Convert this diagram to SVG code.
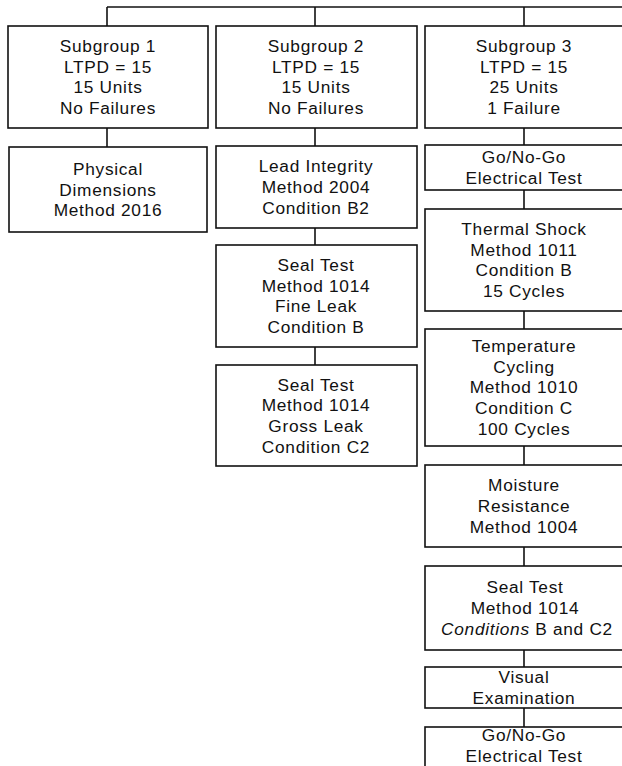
<svg xmlns="http://www.w3.org/2000/svg" width="622" height="766" viewBox="0 0 622 766">
<style>
  .box rect { fill: #ffffff; stroke: #111111; stroke-width: 1.6; }
  .box text { font-family: "Liberation Sans", Arial, Helvetica, sans-serif; font-size: 17.3px; letter-spacing: 0.7px; fill: #111111; text-anchor: middle; }
  .conn line { stroke: #111111; stroke-width: 1.6; fill: none; }
  .it { font-style: italic; }
</style>
<rect x="0" y="0" width="622" height="766" fill="#ffffff"/>
<g id="connectors" class="conn">
  <line x1="107" y1="7" x2="624" y2="7"/>
  <line x1="107" y1="7" x2="107" y2="26"/>
  <line x1="315" y1="7" x2="315" y2="26"/>
  <line x1="524" y1="7" x2="524" y2="26"/>
  <line x1="107" y1="128" x2="107" y2="147"/>
  <line x1="315" y1="128" x2="315" y2="146"/>
  <line x1="315" y1="228" x2="315" y2="245"/>
  <line x1="315" y1="347" x2="315" y2="365"/>
  <line x1="524" y1="128" x2="524" y2="145"/>
  <line x1="524" y1="190" x2="524" y2="209"/>
  <line x1="524" y1="311" x2="524" y2="329"/>
  <line x1="524" y1="446" x2="524" y2="465"/>
  <line x1="524" y1="547" x2="524" y2="566"/>
  <line x1="524" y1="650" x2="524" y2="667"/>
  <line x1="524" y1="708" x2="524" y2="727"/>
</g>
<g id="subgroup1" class="box">
  <rect x="8" y="26" width="200" height="102"/>
  <text x="108" y="52">Subgroup 1</text>
  <text x="108" y="72.7">LTPD = 15</text>
  <text x="108" y="93.4">15 Units</text>
  <text x="108" y="114">No Failures</text>
</g>
<g id="subgroup2" class="box">
  <rect x="216" y="26" width="201" height="102"/>
  <text x="316" y="52">Subgroup 2</text>
  <text x="316" y="72.7">LTPD = 15</text>
  <text x="316" y="93.4">15 Units</text>
  <text x="316" y="114">No Failures</text>
</g>
<g id="subgroup3" class="box">
  <rect x="425" y="26" width="202" height="102"/>
  <text x="524" y="52">Subgroup 3</text>
  <text x="524" y="72.7">LTPD = 15</text>
  <text x="524" y="93.4">25 Units</text>
  <text x="524" y="114">1 Failure</text>
</g>
<g id="physical-dimensions" class="box">
  <rect x="9" y="147" width="198" height="85"/>
  <text x="108" y="174.8">Physical</text>
  <text x="108" y="195.5">Dimensions</text>
  <text x="108" y="216.2">Method 2016</text>
</g>
<g id="lead-integrity" class="box">
  <rect x="216" y="146" width="201" height="82"/>
  <text x="316" y="172.3">Lead Integrity</text>
  <text x="316" y="193">Method 2004</text>
  <text x="316" y="213.7">Condition B2</text>
</g>
<g id="seal-fine" class="box">
  <rect x="216" y="245" width="201" height="102"/>
  <text x="316" y="271">Seal Test</text>
  <text x="316" y="291.7">Method 1014</text>
  <text x="316" y="312.4">Fine Leak</text>
  <text x="316" y="333">Condition B</text>
</g>
<g id="seal-gross" class="box">
  <rect x="216" y="365" width="201" height="101"/>
  <text x="316" y="390.5">Seal Test</text>
  <text x="316" y="411.2">Method 1014</text>
  <text x="316" y="431.9">Gross Leak</text>
  <text x="316" y="452.6">Condition C2</text>
</g>
<g id="gonogo-1" class="box">
  <rect x="425" y="145" width="202" height="45"/>
  <text x="524" y="163">Go/No-Go</text>
  <text x="524" y="183.7">Electrical Test</text>
</g>
<g id="thermal-shock" class="box">
  <rect x="425" y="209" width="202" height="102"/>
  <text x="524" y="235">Thermal Shock</text>
  <text x="524" y="255.7">Method 1011</text>
  <text x="524" y="276.4">Condition B</text>
  <text x="524" y="297">15 Cycles</text>
</g>
<g id="temperature-cycling" class="box">
  <rect x="425" y="329" width="202" height="117"/>
  <text x="524" y="352">Temperature</text>
  <text x="524" y="372.7">Cycling</text>
  <text x="524" y="393.4">Method 1010</text>
  <text x="524" y="414.1">Condition C</text>
  <text x="524" y="434.8">100 Cycles</text>
</g>
<g id="moisture-resistance" class="box">
  <rect x="425" y="465" width="202" height="82"/>
  <text x="524" y="491.3">Moisture</text>
  <text x="524" y="512">Resistance</text>
  <text x="524" y="532.7">Method 1004</text>
</g>
<g id="seal-test-3" class="box">
  <rect x="425" y="566" width="202" height="84"/>
  <text x="525" y="593.3">Seal Test</text>
  <text x="525" y="614">Method 1014</text>
  <text x="527" y="634.7"><tspan class="it">Conditions</tspan> B and C2</text>
</g>
<g id="visual-examination" class="box">
  <rect x="425" y="667" width="202" height="41"/>
  <text x="524" y="683.1">Visual</text>
  <text x="524" y="703.8">Examination</text>
</g>
<g id="gonogo-2" class="box">
  <rect x="425" y="727" width="202" height="45"/>
  <text x="524" y="741">Go/No-Go</text>
  <text x="524" y="761.7">Electrical Test</text>
</g>
</svg>
